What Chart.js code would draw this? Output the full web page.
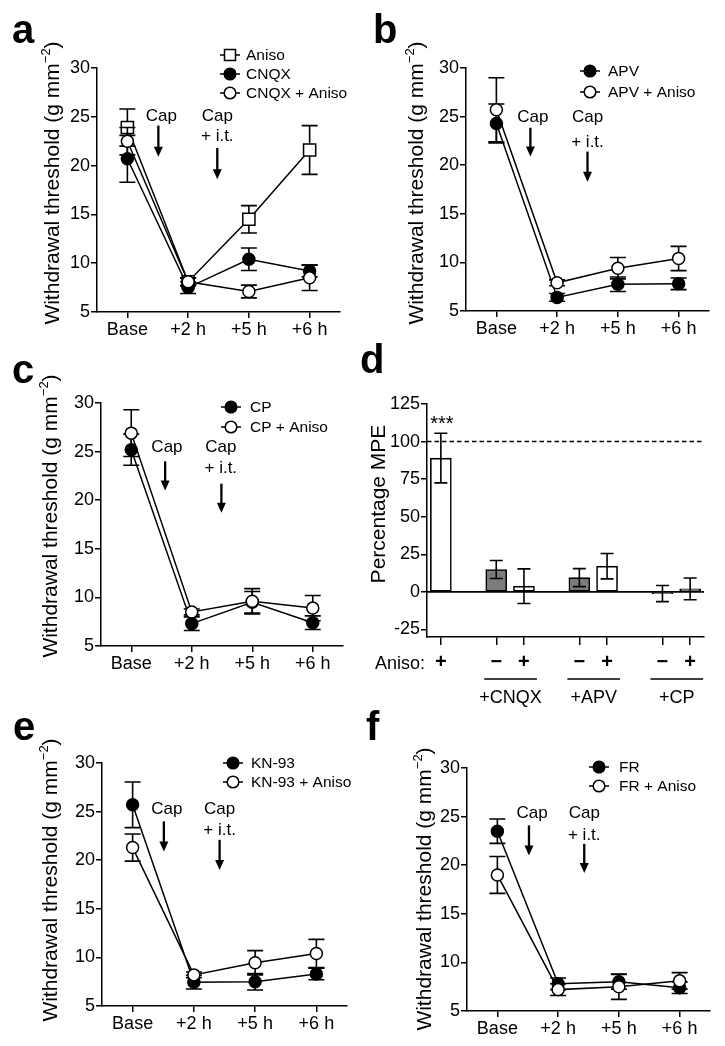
<!DOCTYPE html>
<html><head><meta charset="utf-8">
<script src="https://cdn.jsdelivr.net/npm/chart.js@4"></script>
<style>
html,body{margin:0;padding:0;background:#fff;}
body{width:725px;height:1046px;position:relative;overflow:hidden;}
canvas{position:absolute;left:0;top:0;}
</style></head><body>
<script>
// ---------------- DATA ----------------
const timeLabels = ['Base', '+2 h', '+5 h', '+6 h'];

// panel a
const aAniso         = [23.9, 8.1, 14.5, 21.6];
const aAnisoSem      = [1.9, 0.4, 1.4, 2.5];
const aCnqx          = [20.7, 7.5, 10.4, 9.2];
const aCnqxSem       = [2.4, 0.6, 1.15, 0.6];
const aCnqxAniso     = [22.5, 8.1, 7.1, 8.5];
const aCnqxAnisoSem  = [1.4, 0.4, 0.65, 1.3];

// panel b
const bApv           = [24.3, 6.4, 7.75, 7.8];
const bApvSem        = [2.0, 0.4, 0.75, 0.6];
const bApvAniso      = [25.7, 7.9, 9.4, 10.4];
const bApvAnisoSem   = [3.3, 0.3, 1.1, 1.25];

// panel c
const cCp            = [25.2, 7.3, 9.5, 7.4];
const cCpSem         = [1.6, 0.7, 1.1, 0.7];
const cCpAniso       = [26.9, 8.5, 9.6, 8.9];
const cCpAnisoSem    = [2.4, 0.3, 1.3, 1.3];

// panel d
const dSigns         = ['+', '', '\u2212', '+', '', '\u2212', '+', '', '\u2212', '+'];
const dMPE           = [89.0, null, 14.9, 3.8, null, 9.5, 17.1, null, -1.1, 2.0];
const dMPESem        = [16.5, null, 6.0, 11.5, null, 6.0, 8.4, null, 5.4, 7.2];
const dTicks         = [-25, 0, 25, 50, 75, 100, 125];
const dGroups        = [['+CNQX', 2, 3], ['+APV', 5, 6], ['+CP', 8, 9]];

// panel e
const eKn93          = [25.7, 7.45, 7.5, 8.3];
const eKn93Sem       = [2.35, 0.7, 0.85, 0.6];
const eKn93Aniso     = [21.3, 8.2, 9.45, 10.4];
const eKn93AnisoSem  = [1.4, 0.3, 1.25, 1.45];

// panel f
const fFr            = [23.5, 7.8, 8.0, 7.4];
const fFrSem         = [1.25, 0.6, 0.75, 0.6];
const fFrAniso       = [19.0, 7.2, 7.5, 8.1];
const fFrAnisoSem    = [1.9, 0.6, 1.3, 0.85];

const yTitleParts = [['Withdrawal threshold (g mm', false], ['\u22122', true], [')', false]];

// ---------------- HELPERS ----------------
const W = 725, H = 1046;
const FONT = "'Liberation Sans', Arial, Helvetica, sans-serif";
Chart.defaults.font.family = FONT;
Chart.defaults.color = '#000';

function newCanvas() {
  const c = document.createElement('canvas');
  c.width = W; c.height = H;
  document.body.appendChild(c);
  return c;
}

function drawYTitle(ctx, parts, bx, cy, size) {
  ctx.save();
  ctx.translate(bx, cy);
  ctx.rotate(-Math.PI / 2);
  const sup = Math.round(size * 0.62);
  let total = 0;
  const ws = parts.map(([t, s]) => { ctx.font = `${s ? sup : size}px ${FONT}`; const w = ctx.measureText(t).width; total += w; return w; });
  let x = -total / 2;
  ctx.textAlign = 'left'; ctx.textBaseline = 'alphabetic'; ctx.fillStyle = '#000';
  parts.forEach(([t, s], i) => {
    ctx.font = `${s ? sup : size}px ${FONT}`;
    ctx.fillText(t, x, s ? -size * 0.45 : 0);
    x += ws[i];
  });
  ctx.restore();
}

function arrow(ctx, x, y0, y1) {
  const head = 10, hw = 4.5;
  ctx.lineWidth = 2.3;
  ctx.beginPath(); ctx.moveTo(x, y0); ctx.lineTo(x, y1 - head + 1); ctx.stroke();
  ctx.beginPath(); ctx.moveTo(x - hw, y1 - head); ctx.lineTo(x + hw, y1 - head); ctx.lineTo(x, y1); ctx.closePath(); ctx.fill();
}

function drawMarker(ctx, x, y, marker, filled) {
  ctx.lineWidth = 1.5;
  ctx.fillStyle = filled ? '#000' : '#fff';
  ctx.beginPath();
  if (marker === 'square') ctx.rect(x - 5.5, y - 5.5, 11, 11);
  else ctx.arc(x, y, 5.8, 0, Math.PI * 2);
  ctx.fill(); ctx.stroke();
}

function errorBarPlugin(after, cap) {
  const draw = (chart, args) => {
    const ds = chart.data.datasets[args.index];
    if (!ds.err) return;
    const ys = chart.scales.y, ctx = chart.ctx;
    ctx.save(); ctx.strokeStyle = '#000'; ctx.lineWidth = 1.6;
    args.meta.data.forEach((el, i) => {
      const v = ds.data[i], e = ds.err[i];
      if (v == null || e == null) return;
      const x = el.x, yt = ys.getPixelForValue(v + e), yb = ys.getPixelForValue(v - e);
      ctx.beginPath();
      ctx.moveTo(x, yb); ctx.lineTo(x, yt);
      ctx.moveTo(x - cap, yt); ctx.lineTo(x + cap, yt);
      ctx.moveTo(x - cap, yb); ctx.lineTo(x + cap, yb);
      ctx.stroke();
    });
    ctx.restore();
  };
  return after ? { id: 'errbars', afterDatasetDraw: draw } : { id: 'errbars', beforeDatasetDraw: draw };
}

function commonDeco(ctx, spec) {
  ctx.fillStyle = '#000';
  ctx.font = `bold 40px ${FONT}`;
  ctx.textAlign = 'left'; ctx.textBaseline = 'alphabetic';
  ctx.fillText(spec.letter, spec.letterPos[0], spec.letterPos[1]);
}

function lineDeco(spec) {
  return {
    id: 'deco',
    afterDraw(chart) {
      const ctx = chart.ctx, xs = chart.scales.x, ys = chart.scales.y;
      ctx.save();
      ctx.strokeStyle = '#000';
      commonDeco(ctx, spec);
      drawYTitle(ctx, yTitleParts, spec.titleX, spec.titleCY, 21);
      // Cap arrows
      ctx.fillStyle = '#000';
      spec.caps.forEach(c => {
        const ax = xs.getPixelForValue(c.x);
        const tx = xs.getPixelForValue(c.tx);
        ctx.font = `17px ${FONT}`; ctx.textAlign = 'center'; ctx.textBaseline = 'middle';
        c.lines.forEach(([t, v]) => ctx.fillText(t, tx, ys.getPixelForValue(v)));
        arrow(ctx, ax, ys.getPixelForValue(c.from), ys.getPixelForValue(c.to));
      });
      // legend
      chart.data.datasets.forEach((ds, i) => {
        const y = spec.legend.rows[i], mx = spec.legend.mx;
        ctx.strokeStyle = '#000'; ctx.lineWidth = 1.5;
        ctx.beginPath(); ctx.moveTo(mx - 10, y); ctx.lineTo(mx + 10, y); ctx.stroke();
        drawMarker(ctx, mx, y, ds.marker, ds.filled);
        ctx.fillStyle = '#000';
        ctx.font = `15.5px ${FONT}`; ctx.textAlign = 'left'; ctx.textBaseline = 'middle';
        ctx.fillText(ds.label, spec.legend.tx, y + 1);
      });
      ctx.restore();
    }
  };
}

function axisStyle(tickLen) {
  return {
    grid: { display: true, drawOnChartArea: false, drawTicks: true, tickLength: tickLen, color: '#000', lineWidth: 1.5, offset: false },
    border: { display: true, color: '#000', width: 1.5 }
  };
}

function linePanel(spec) {
  const YW = 40, XH = 40;
  const n = spec.series.length;
  const canvas = newCanvas();
  return new Chart(canvas, {
    type: 'line',
    data: {
      labels: timeLabels,
      datasets: spec.series.map((s, i) => ({
        label: s.label, data: s.data, err: s.err, marker: s.marker, filled: s.filled,
        order: n - i,
        borderColor: '#000', borderWidth: 1.5, tension: 0, fill: false,
        pointStyle: s.marker === 'square' ? 'rect' : 'circle',
        pointRadius: s.marker === 'square' ? 8.6 : 6,
        pointBackgroundColor: s.filled ? '#000' : '#fff',
        pointBorderColor: '#000', pointBorderWidth: 1.5
      }))
    },
    options: {
      responsive: false, animation: false, events: [],
      layout: { padding: { left: spec.box.l - YW, right: W - spec.box.r, top: spec.box.t, bottom: H - spec.box.b - XH } },
      plugins: { legend: { display: false }, tooltip: { enabled: false } },
      scales: {
        x: Object.assign(axisStyle(6), {
          offset: true,
          ticks: { font: { size: 18 }, color: '#000', padding: 1, autoSkip: false, maxRotation: 0 },
          afterFit: s => { s.height = XH; }
        }),
        y: Object.assign(axisStyle(6), {
          min: 5, max: 30,
          ticks: { stepSize: 5, font: { size: 18 }, color: '#000', padding: 1 },
          afterFit: s => { s.width = YW; }
        })
      }
    },
    plugins: [errorBarPlugin(false, 8), lineDeco(spec)]
  });
}

// ---------------- PANELS ----------------
linePanel({
  letter: 'a', letterPos: [12, 43], titleX: 59, titleCY: 183,
  box: { l: 97, r: 340, t: 68, b: 312 },
  series: [
    { label: 'Aniso', data: aAniso, err: aAnisoSem, marker: 'square', filled: false },
    { label: 'CNQX', data: aCnqx, err: aCnqxSem, marker: 'circle', filled: true },
    { label: 'CNQX + Aniso', data: aCnqxAniso, err: aCnqxAnisoSem, marker: 'circle', filled: false }
  ],
  caps: [
    { x: 0.51, tx: 0.56, lines: [['Cap', 25.0]], from: 24.1, to: 20.9 },
    { x: 1.48, tx: 1.48, lines: [['Cap', 25.0], ['+ i.t.', 23.0]], from: 21.8, to: 18.6 }
  ],
  legend: { mx: 230, tx: 246, rows: [55, 74, 93] }
});

linePanel({
  letter: 'b', letterPos: [373, 43], titleX: 423, titleCY: 183,
  box: { l: 466, r: 709, t: 68, b: 311 },
  series: [
    { label: 'APV', data: bApv, err: bApvSem, marker: 'circle', filled: true },
    { label: 'APV + Aniso', data: bApvAniso, err: bApvAnisoSem, marker: 'circle', filled: false }
  ],
  caps: [
    { x: 0.56, tx: 0.6, lines: [['Cap', 24.9]], from: 23.85, to: 20.9 },
    { x: 1.5, tx: 1.5, lines: [['Cap', 24.9], ['+ i.t.', 22.4]], from: 21.4, to: 18.3 }
  ],
  legend: { mx: 590, tx: 608, rows: [71, 92] }
});

linePanel({
  letter: 'c', letterPos: [12, 383], titleX: 57, titleCY: 516,
  box: { l: 101, r: 343, t: 403, b: 646 },
  series: [
    { label: 'CP', data: cCp, err: cCpSem, marker: 'circle', filled: true },
    { label: 'CP + Aniso', data: cCpAniso, err: cCpAnisoSem, marker: 'circle', filled: false }
  ],
  caps: [
    { x: 0.56, tx: 0.59, lines: [['Cap', 25.4]], from: 24.0, to: 21.0 },
    { x: 1.49, tx: 1.48, lines: [['Cap', 25.4], ['+ i.t.', 23.3]], from: 21.7, to: 18.7 }
  ],
  legend: { mx: 231, tx: 250, rows: [407, 427] }
});

linePanel({
  letter: 'e', letterPos: [13, 740], titleX: 57, titleCY: 880,
  box: { l: 102, r: 347, t: 763, b: 1006 },
  series: [
    { label: 'KN-93', data: eKn93, err: eKn93Sem, marker: 'circle', filled: true },
    { label: 'KN-93 + Aniso', data: eKn93Aniso, err: eKn93AnisoSem, marker: 'circle', filled: false }
  ],
  caps: [
    { x: 0.51, tx: 0.56, lines: [['Cap', 25.2]], from: 24.0, to: 20.9 },
    { x: 1.42, tx: 1.42, lines: [['Cap', 25.2], ['+ i.t.', 23.1]], from: 22.1, to: 19.0 }
  ],
  legend: { mx: 233, tx: 251, rows: [763, 782] }
});

linePanel({
  letter: 'f', letterPos: [366, 740], titleX: 431, titleCY: 889,
  box: { l: 467, r: 710, t: 768, b: 1011 },
  series: [
    { label: 'FR', data: fFr, err: fFrSem, marker: 'circle', filled: true },
    { label: 'FR + Aniso', data: fFrAniso, err: fFrAnisoSem, marker: 'circle', filled: false }
  ],
  caps: [
    { x: 0.52, tx: 0.57, lines: [['Cap', 25.3]], from: 24.1, to: 21.0 },
    { x: 1.43, tx: 1.43, lines: [['Cap', 25.3], ['+ i.t.', 23.1]], from: 22.2, to: 19.2 }
  ],
  legend: { mx: 599, tx: 619, rows: [767, 786] }
});

// panel d (bar)
(function () {
  const box = { l: 427, r: 704, t: 404, b: 637 };
  const YW = 50, XH = 40;
  const GRAY = '#7c7c7c';
  const deco = {
    id: 'deco',
    beforeDatasetsDraw(chart) {
      const ctx = chart.ctx, ys = chart.scales.y, a = chart.chartArea;
      ctx.save(); ctx.strokeStyle = '#000'; ctx.lineWidth = 1.5;
      ctx.setLineDash([4.5, 3]);
      const y100 = ys.getPixelForValue(100);
      ctx.beginPath(); ctx.moveTo(a.left, y100); ctx.lineTo(a.right, y100); ctx.stroke();
      ctx.restore();
    },
    afterDatasetsDraw(chart) {
      const ctx = chart.ctx, ys = chart.scales.y, a = chart.chartArea;
      ctx.save(); ctx.strokeStyle = '#000'; ctx.lineWidth = 1.6;
      const y0 = ys.getPixelForValue(0);
      ctx.beginPath(); ctx.moveTo(a.left, y0); ctx.lineTo(a.right, y0); ctx.stroke();
      ctx.restore();
    },
    afterDraw(chart) {
      const ctx = chart.ctx, xs = chart.scales.x, ys = chart.scales.y;
      const meta = chart.getDatasetMeta(0);
      ctx.save();
      commonDeco(ctx, { letter: 'd', letterPos: [360, 373] });
      drawYTitle(ctx, [['Percentage MPE', false]], 385, 504, 21);
      // significance
      ctx.font = `20px ${FONT}`; ctx.textAlign = 'center'; ctx.textBaseline = 'alphabetic';
      ctx.fillText('***', meta.data[0].x + 1, ys.getPixelForValue(115) + 11);
      // Aniso label
      ctx.font = `18px ${FONT}`; ctx.textAlign = 'right'; ctx.textBaseline = 'middle';
      ctx.fillText('Aniso:', 425, 664);
      // group lines & labels
      ctx.strokeStyle = '#000'; ctx.lineWidth = 1.5;
      dGroups.forEach(([lab, i0, i1]) => {
        const x0 = xs.getPixelForValue(i0) - 12, x1 = xs.getPixelForValue(i1) + 13;
        ctx.beginPath(); ctx.moveTo(x0, 679); ctx.lineTo(x1, 679); ctx.stroke();
        ctx.textAlign = 'center';
        ctx.fillText(lab, (x0 + x1) / 2, 698);
      });
      ctx.restore();
    }
  };
  new Chart(newCanvas(), {
    type: 'bar',
    data: {
      labels: dSigns,
      datasets: [{
        data: dMPE, err: dMPESem,
        backgroundColor: dSigns.map(s => s === '\u2212' ? GRAY : '#fff'),
        borderColor: '#000', borderWidth: 1.6, borderSkipped: false, barThickness: 21
      }]
    },
    options: {
      responsive: false, animation: false, events: [],
      layout: { padding: { left: box.l - YW, right: W - box.r, top: box.t, bottom: H - box.b - XH } },
      plugins: { legend: { display: false }, tooltip: { enabled: false } },
      scales: {
        x: {
          offset: true,
          grid: { display: true, drawOnChartArea: false, drawTicks: true, tickLength: 8, lineWidth: 1.5, offset: false,
                  color: c => dSigns[c.index] ? '#000' : 'rgba(0,0,0,0)' },
          border: { display: true, color: '#000', width: 1.5 },
          ticks: { font: { size: 20, weight: 'bold' }, color: '#000', padding: 5, autoSkip: false, maxRotation: 0 },
          afterFit: s => { s.height = XH; }
        },
        y: Object.assign(axisStyle(6), {
          min: -30, max: 125,
          ticks: { font: { size: 18 }, color: '#000', padding: 1 },
          afterBuildTicks: s => { s.ticks = dTicks.map(v => ({ value: v })); },
          afterFit: s => { s.width = YW; }
        })
      }
    },
    plugins: [deco, errorBarPlugin(true, 6.5)]
  });
})();
</script>
</body></html>
